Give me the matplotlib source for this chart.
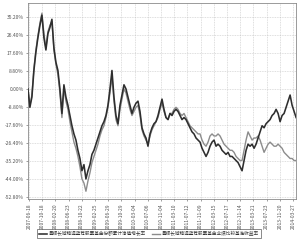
import numpy as np
import matplotlib
matplotlib.use("Agg")
import matplotlib.pyplot as plt
from matplotlib.ticker import FuncFormatter

plt.rcParams['font.family'] = ['Noto Sans CJK SC', 'DejaVu Sans']

# 累计净值增长率 (%), 约每 2 个像素取一点
fund = [0, -9, -4, 9, 18, 25, 31, 36, 25, 19, 27, 30, 34, 20, 13, 9, 0, -12, 2, -4,
        -8, -13, -18, -22, -25, -30, -34, -40, -37, -44, -40, -37, -32, -30, -27, -24, -21, -18, -16, -13,
        -8, 0, 9, -4, -13, -17, -8, -3, 2, 0, -4, -8, -12, -9, -7, -6, -11, -19, -22, -24,
        -28, -22, -19, -17, -16, -13, -9, -5, -10, -14, -15, -12, -13, -11, -10, -11, -13, -15, -14, -15,
        -17, -19, -21, -22, -24, -25, -26, -29, -31, -33, -31, -28, -26, -25, -28, -27, -28, -30, -31, -32,
        -31, -33, -33, -34, -35, -36, -38, -40, -35, -30, -27, -28, -27, -29, -27, -24, -21, -18, -19, -17,
        -16, -15, -13, -12, -10, -12, -16, -13, -12, -9, -6, -3, -8, -11, -14]

# 业绩比较基准收益率 (%)
bench = [0, -8, -3, 10, 19, 26, 32, 37, 27, 20, 28, 31, 33, 19, 12, 7, -2, -14, 0, -6,
         -10, -16, -21, -26, -29, -33, -38, -44, -46, -50, -45, -41, -36, -33, -30, -27, -23, -20, -18, -14,
         -9, -2, 6, -6, -15, -18, -10, -5, 0, -2, -6, -10, -13, -11, -9, -8, -13, -20, -23, -25,
         -27, -23, -20, -18, -16, -14, -10, -7, -11, -14, -15, -12, -12, -10, -9, -10, -12, -13, -12, -14,
         -16, -18, -19, -20, -21, -22, -22, -25, -27, -28, -26, -23, -22, -23, -23, -22, -23, -25, -27, -28,
         -29, -30, -30, -31, -33, -34, -35, -35, -30, -25, -21, -23, -25, -24, -24, -23, -25, -28, -31, -29,
         -27, -26, -27, -28, -28, -27, -28, -29, -31, -32, -33, -34, -34, -35, -35]

date_labels = ["2007-06-18", "2007-10-18", "2008-02-20", "2008-06-23", "2008-10-22",
               "2009-02-25", "2009-06-29", "2009-10-29", "2010-03-04", "2010-07-06",
               "2010-11-04", "2011-03-10", "2011-07-12", "2011-11-09", "2012-03-15",
               "2012-07-17", "2012-11-14", "2013-03-21", "2013-07-23", "2013-11-20",
               "2014-03-27"]

y_ticks = [35.2, 26.4, 17.6, 8.8, 0.0, -8.8, -17.6, -26.4, -35.2, -44.0, -52.8]

legend_names = ["景顺长城精选蓝筹股票基金份额累计净值增长率",
                "景顺长城精选蓝筹股票基金业绩比较基准收益率"]

x = np.arange(len(fund))

fig = plt.figure(figsize=(3.0, 2.43), dpi=100)
ax = fig.add_axes([0.093, 0.181, 0.894, 0.807])

ax.plot(x, bench, color='#8c8c8c', lw=1.0, label=legend_names[1], zorder=2)
ax.plot(x, fund, color='#2e2e2e', lw=1.15, label=legend_names[0], zorder=3)

ax.set_xlim(0, len(fund) - 1)
ax.set_ylim(-53.8, 42.0)

ax.set_yticks(y_ticks)
ax.yaxis.set_major_formatter(FuncFormatter(lambda v, p: f"{v:.2f}%"))
ax.set_xticks(np.linspace(0.5, len(fund) - 2.5, len(date_labels)))
ax.set_xticklabels(date_labels, rotation=90)

ax.tick_params(axis='both', labelsize=3.6, colors='#555555', length=1.5, width=0.4, pad=1.5)
ax.grid(True, color='#bdbdbd', lw=0.4, linestyle=(0, (1.5, 1.5)))
for sp in ax.spines.values():
    sp.set_color('#8a8a8a')
    sp.set_linewidth(0.6)

h, l = ax.get_legend_handles_labels()
leg = fig.legend(h[::-1], l[::-1], loc='center', bbox_to_anchor=(0.497, 0.038), ncol=2,
                 fontsize=3.3, frameon=True, fancybox=False, handlelength=1.8,
                 columnspacing=1.2, handletextpad=0.4, borderpad=0.45)
leg.get_frame().set_edgecolor('#333333')
leg.get_frame().set_linewidth(0.5)
for t in leg.get_texts():
    t.set_color('#333333')

fig.savefig("out.png", dpi=100)
